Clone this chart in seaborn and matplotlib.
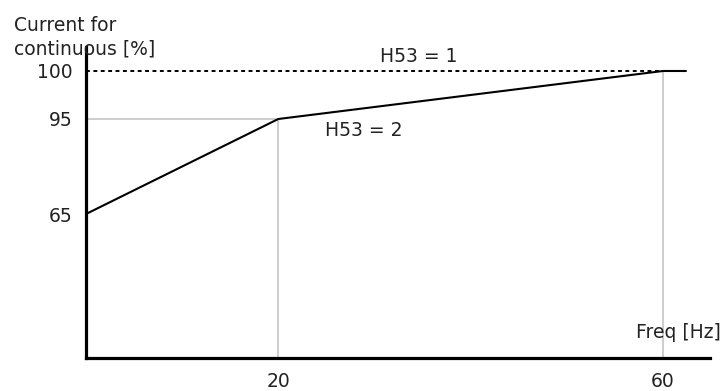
import numpy as np
import pandas as pd
import matplotlib
matplotlib.use("Agg")
import matplotlib.pyplot as plt
import seaborn as sns

# ---- data ----
freq_h53_2 = [0, 20, 60, 62.4]
current_h53_2 = [65, 95, 100, 100]
freq_h53_1 = [0, 60]
current_h53_1 = [100, 100]
y_ticks = [65, 95, 100]
x_ticks = [20, 60]
x_tick_labels = ["20", "60"]
y_tick_labels = ["65", "95", "100"]

sns.set_style("white")
plt.rcParams['font.family'] = ['DejaVu Sans']

W, H, DPI = 728, 391, 100
fig = plt.figure(figsize=(W / DPI, H / DPI), dpi=DPI)
ax = fig.add_axes([86 / W, 33 / H, (710 - 86) / W, (358 - 47) / H])

# schematic (piecewise-linear) vertical scale, as in the reference
yv = [20, 65, 95, 100, 102.5]
yp = [0, 144, 239, 287, 311]
fwd = lambda y: np.interp(y, yv, yp)
inv = lambda p: np.interp(p, yp, yv)
ax.set_yscale('function', functions=(fwd, inv))
ax.set_xlim(0, 64.9)
ax.set_ylim(20, 102.5)

grey = '#c0c0c0'
# guide lines
ax.plot([20, 20], [20, 95], color=grey, lw=1.1, zorder=1)
ax.plot([0, 20], [95, 95], color=grey, lw=1.1, zorder=1)
ax.plot([60, 60], [20, 100], color=grey, lw=1.1, zorder=1)

df2 = pd.DataFrame({"freq": freq_h53_2, "current": current_h53_2})
df1 = pd.DataFrame({"freq": freq_h53_1, "current": current_h53_1})
sns.lineplot(data=df1, x="freq", y="current", ax=ax, color='black', lw=1.4,
             linestyle=(0, (2.0, 1.8)), zorder=2)
sns.lineplot(data=df2, x="freq", y="current", ax=ax, color='black', lw=1.5, zorder=3)

fs = 13.5
ax.set_xlabel("")
ax.set_ylabel("")
ax.set_yticks(y_ticks)
ax.set_yticklabels(y_tick_labels)
ax.set_xticks(x_ticks)
ax.set_xticklabels(x_tick_labels)
ax.tick_params(axis='y', length=0, pad=9.5, labelsize=fs)
ax.tick_params(axis='x', length=0, pad=10, labelsize=fs)
for t in ax.get_xticklabels() + ax.get_yticklabels():
    t.set_color('#222222')

for s in ['top', 'right']:
    ax.spines[s].set_visible(False)
for s in ['left', 'bottom']:
    ax.spines[s].set_linewidth(2.3)
    ax.spines[s].set_color('black')
ax.patch.set_alpha(0)

ax.annotate("H53 = 1", xy=(34.6, 100), xytext=(0, 14), textcoords='offset pixels',
            ha='center', va='center', fontsize=fs, color='#222222')
ax.annotate("H53 = 2", xy=(28.9, 95), xytext=(0, -11), textcoords='offset pixels',
            ha='center', va='center', fontsize=fs, color='#222222')
ax.annotate("Freq [Hz]", xy=(61.6, 20), xytext=(0, 25), textcoords='offset pixels',
            ha='center', va='center', fontsize=fs, color='#222222')
fig.text(14 / W, 1 - 37 / H, "Current for\ncontinuous [%]", ha='left', va='center',
         fontsize=fs, color='#222222', linespacing=1.32)

fig.savefig("out.png", dpi=DPI)
